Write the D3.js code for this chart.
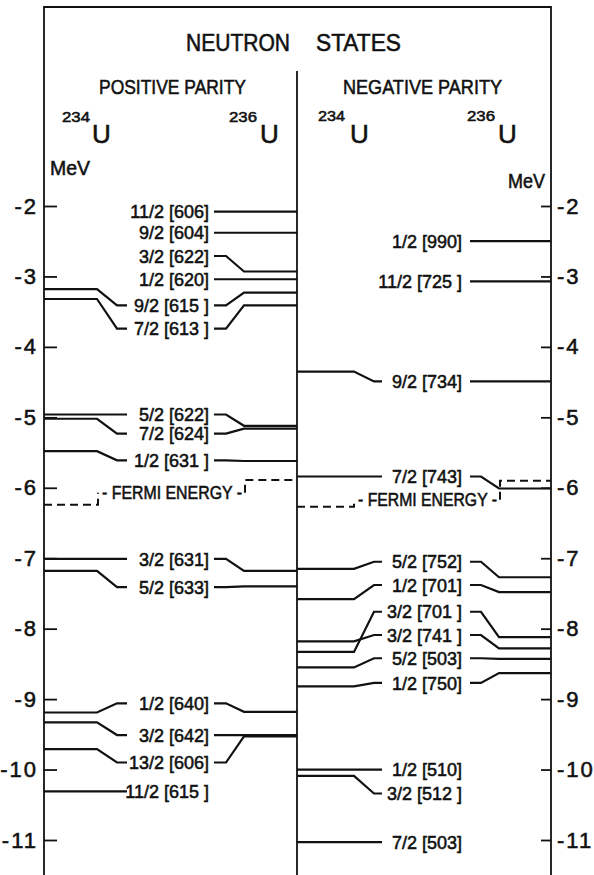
<!DOCTYPE html>
<html>
<head>
<meta charset="utf-8">
<script src="https://cdn.jsdelivr.net/npm/d3@7"></script>
<style>
  body { margin: 0; background: #fff; }
  text { font-family: "Liberation Sans", Arial, sans-serif; fill: #111; stroke: #111; stroke-width: 0.55; }
</style>
</head>
<body>
<div class="canvas"></div>
<script>
// energies in MeV (null = level not drawn for that isotope)
var tickValues = [-2, -3, -4, -5, -6, -7, -8, -9, -10, -11]
var tickLabels = ["-2", "-3", "-4", "-5", "-6", "-7", "-8", "-9", "-10", "-11"]

// positive parity
var posLabels = ["11/2 [606]", "9/2 [604]", "3/2 [622]", "1/2 [620]", "9/2 [615 ]", "7/2 [613 ]",
                 "5/2 [622]", "7/2 [624]", "1/2 [631 ]", "3/2 [631]", "5/2 [633]",
                 "1/2 [640]", "3/2 [642]", "13/2 [606]", "11/2 [615 ]"]
var posE234 = [null, null, null, null, -3.18, -3.32, -4.96, -5.02, -5.48, -7.01, -7.18, -9.19, -9.33, -9.71, -10.31]
var posE236 = [-2.08, -2.38, -2.93, -3.04, -3.23, -3.41, -5.12, -5.16, -5.62, -7.18, -7.40, -9.18, -9.51, -9.53, null]
var posLabelE = [-2.08, -2.38, -2.71, -3.04, -3.41, -3.74, -4.96, -5.23, -5.61, -7.01, -7.41, -9.06, -9.51, -9.90, -10.31]

// negative parity
var negLabels = ["1/2 [990]", "11/2 [725 ]", "9/2 [734]", "7/2 [743]", "5/2 [752]", "1/2 [701]",
                 "3/2 [701 ]", "3/2 [741 ]", "5/2 [503]", "1/2 [750]", "1/2 [510]", "3/2 [512 ]", "7/2 [503]"]
var negE234 = [null, null, -4.35, -5.84, -7.15, -7.58, -8.33, -8.18, -8.55, -8.82, -10.00, -10.09, -11.03]
var negE236 = [-2.50, -3.07, -4.49, -6.01, -7.27, -7.48, -8.12, -8.28, -8.43, -8.63, null, null, null]
var negLabelE = [-2.50, -3.07, -4.49, -5.84, -7.05, -7.38, -7.76, -8.09, -8.42, -8.77, -10.00, -10.34, -11.03]

// fermi energy [234U, 236U, label]
var posFermi = [-6.24, -5.89, -6.07]
var negFermi = [-6.27, -5.90, -6.17]

var W = 594, H = 875
var svg = d3.select(".canvas").append("svg").attr("width", W).attr("height", H)

var y = d3.scaleLinear().domain([-2, -11]).range([206, 840])

var xLeft = 44, xMid = 297, xRight = 551, yTop = 7

// frame
svg.append("path")
    .attr("d", "M" + xLeft + "," + H + "V" + yTop + "H" + xRight + "V" + H)
    .attr("fill", "none").attr("stroke", "#111").attr("stroke-width", 1.8)
svg.append("line")
    .attr("x1", xMid).attr("x2", xMid).attr("y1", 71).attr("y2", H)
    .attr("stroke", "#111").attr("stroke-width", 1.8)

// axes
var fmt = function(d) { return tickLabels[tickValues.indexOf(d)] }
svg.append("g").attr("transform", "translate(" + xLeft + ",0)")
    .call(d3.axisLeft(y).tickValues(tickValues).tickFormat(fmt).tickSize(-13).tickSizeOuter(0).tickPadding(6))
svg.append("g").attr("transform", "translate(" + xRight + ",0)")
    .call(d3.axisRight(y).tickValues(tickValues).tickFormat(fmt).tickSize(-10).tickSizeOuter(0).tickPadding(6))
svg.selectAll(".domain").remove()
svg.selectAll(".tick line").attr("stroke", "#111").attr("stroke-width", 1.8)
svg.selectAll(".tick text").attr("font-size", 22).attr("font-family", "Liberation Sans")
    .attr("letter-spacing", 2).attr("fill", "#111")

// headings
function label(txt, x, yy, size, len, anchor) {
    var t = svg.append("text").attr("x", x).attr("y", yy).attr("font-size", size)
        .attr("text-anchor", anchor || "start").text(txt)
    if (len) t.attr("textLength", len).attr("lengthAdjust", "spacingAndGlyphs")
    return t
}
label("NEUTRON", 186, 51, 24, 104)
label("STATES", 316, 51, 24, 85)
label("POSITIVE PARITY", 99, 94, 21, 147)
label("NEGATIVE PARITY", 343, 94, 21, 159)
label("234", 62, 122, 15, 28)
label("U", 92, 143, 26)
label("236", 229, 122, 15, 28)
label("U", 260, 143, 26)
label("234", 318, 121, 15, 27)
label("U", 350, 143, 26)
label("236", 467, 121, 15, 28)
label("U", 498, 143, 26)
label("MeV", 50, 175, 20, 40)
label("MeV", 508, 188, 20, 37)

// level diagrams
var line = d3.line()
function panel(labels, e234, e236, labE, xs) {
    labels.forEach(function(txt, i) {
        var yl = y(labE[i])
        if (e234[i] != null) {
            svg.append("path")
                .attr("d", line([[xs.a0, y(e234[i])], [xs.a1, y(e234[i])], [xs.a2, yl], [xs.a3, yl]]))
                .attr("fill", "none").attr("stroke", "#111").attr("stroke-width", 2.2)
        }
        if (e236[i] != null) {
            svg.append("path")
                .attr("d", line([[xs.b0, yl], [xs.b1, yl], [xs.b2, y(e236[i])], [xs.b3, y(e236[i])]]))
                .attr("fill", "none").attr("stroke", "#111").attr("stroke-width", 2.2)
        }
        svg.append("text").attr("x", xs.t).attr("y", yl).attr("dy", "0.37em")
            .attr("text-anchor", "end").attr("font-size", 18).text(txt)
    })
}
var posX = {a0: xLeft, a1: 97, a2: 117, a3: 127, b0: 214, b1: 226, b2: 244, b3: xMid, t: 209}
var negX = {a0: xMid, a1: 354, a2: 374, a3: 382, b0: 470, b1: 481, b2: 499, b3: xRight, t: 462}
panel(posLabels, posE234, posE236, posLabelE, posX)
panel(negLabels, negE234, negE236, negLabelE, negX)

// fermi energy
function fermi(f, x0, x1, tx0, tx1, x2, x3) {
    var yl = y(f[2])
    svg.append("path")
        .attr("d", line([[x0, y(f[0])], [x1, y(f[0])], [x1, yl]]))
        .attr("fill", "none").attr("stroke", "#111").attr("stroke-width", 2).attr("stroke-dasharray", "8,5")
    svg.append("path")
        .attr("d", line([[x2, yl], [x2, y(f[1])], [x3, y(f[1])]]))
        .attr("fill", "none").attr("stroke", "#111").attr("stroke-width", 2).attr("stroke-dasharray", "8,5")
    svg.append("text").attr("x", tx0).attr("y", yl).attr("dy", "0.37em").attr("font-size", 18)
        .attr("textLength", tx1 - tx0).attr("lengthAdjust", "spacingAndGlyphs").text("- FERMI ENERGY -")
}
fermi(posFermi, xLeft, 98, 102, 242, 245, xMid)
fermi(negFermi, xMid, 354, 358, 497, 500, xRight)
</script>
</body>
</html>
